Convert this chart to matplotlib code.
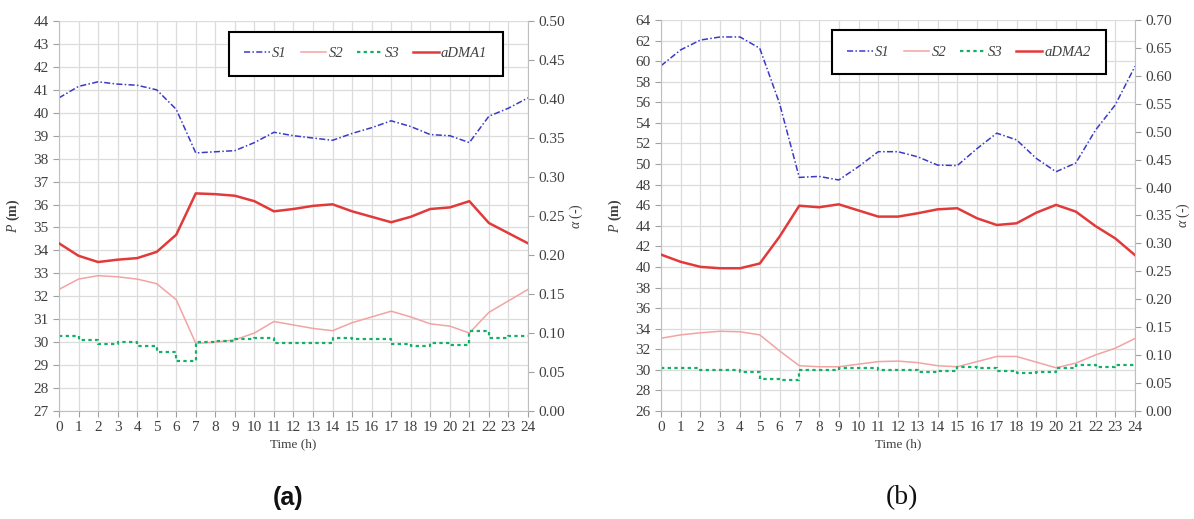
"""Two-panel chart: hourly pressure at S1-S3 and alpha of the DMA."""

import matplotlib

matplotlib.use("Agg")
import matplotlib.pyplot as plt
from matplotlib.lines import Line2D
from matplotlib.ticker import FormatStrFormatter

hours = list(range(25))

# panel (a)
s1_a = [40.65, 41.15, 41.35, 41.25, 41.2, 41.0, 40.15, 38.25, 38.3, 38.35, 38.7, 39.15,
        39.0, 38.9, 38.8, 39.1, 39.35, 39.65, 39.4, 39.05, 39.0, 38.7, 39.85, 40.2, 40.65]
s2_a = [32.3, 32.75, 32.9, 32.85, 32.75, 32.55, 31.85, 29.95, 30.0, 30.1, 30.4, 30.9,
        30.75, 30.6, 30.5, 30.85, 31.1, 31.35, 31.1, 30.8, 30.7, 30.4, 31.3, 31.8, 32.3]
s3_a = [30.28, 30.1, 29.93, 30.0, 29.83, 29.58, 29.17, 30.02, 30.05, 30.12, 30.2, 29.95,
        29.95, 29.95, 30.17, 30.12, 30.12, 29.9, 29.83, 29.97, 29.88, 30.48, 30.2, 30.25, 30.25]
adma1 = [0.215, 0.199, 0.191, 0.194, 0.196, 0.204, 0.226, 0.279, 0.278, 0.276, 0.269, 0.256,
         0.259, 0.263, 0.265, 0.256, 0.249, 0.242, 0.249, 0.259, 0.261, 0.269, 0.241, 0.228, 0.215]

# panel (b)
s1_b = [59.55, 61.1, 62.05, 62.35, 62.35, 61.25, 55.9, 48.7, 48.8, 48.45, 49.75, 51.2,
        51.2, 50.7, 49.9, 49.85, 51.5, 53.0, 52.35, 50.55, 49.25, 50.1, 53.3, 55.75, 59.5]
s2_b = [33.07, 33.4, 33.6, 33.75, 33.7, 33.4, 31.85, 30.4, 30.3, 30.3, 30.55, 30.8,
        30.85, 30.7, 30.4, 30.3, 30.8, 31.3, 31.3, 30.75, 30.2, 30.65, 31.45, 32.1, 33.05]
s3_b = [30.2, 30.15, 30.0, 30.0, 29.8, 29.1, 29.0, 29.95, 29.95, 30.15, 30.2, 29.95,
        30.0, 29.76, 29.9, 30.3, 30.2, 29.9, 29.67, 29.76, 30.15, 30.47, 30.3, 30.47, 30.47]
adma2 = [0.28, 0.267, 0.258, 0.2555, 0.2555, 0.264, 0.312, 0.3675, 0.3647, 0.37, 0.359, 0.348,
         0.348, 0.354, 0.361, 0.363, 0.345, 0.333, 0.336, 0.355, 0.369, 0.357, 0.331, 0.309, 0.279]

C_S1 = "#3a3ac8"
C_S2 = "#f2a3a3"
C_S3 = "#14b06a"
C_ADMA = "#e23a3a"
GRID = "#dcdcdc"
TXT = "#404040"
SERIF = "Liberation Serif"

plt.rcParams["font.family"] = SERIF
plt.rcParams["mathtext.fontset"] = "custom"
plt.rcParams["mathtext.it"] = "Liberation Serif:italic"
plt.rcParams["mathtext.rm"] = "Liberation Serif"

DASHDOT = (0, (4, 1.5, 1, 1.5))
DOTTED = (0, (1.5, 1.5))


def panel(rect, s1, s2, s3, adma, adma_name, p_lim, p_step, a_lim, leg_xy):
    ax = fig.add_axes(rect)
    ax.plot(hours, s1, color=C_S1, lw=1.1, ls=DASHDOT)
    ax.plot(hours, s2, color=C_S2, lw=1.1)
    ax.plot(hours, s3, color=C_S3, lw=1.6, ls=DOTTED, drawstyle="steps-post")
    ax.set_xlim(0, 24)
    ax.set_ylim(*p_lim)
    ax.set_xticks(hours)
    ax.set_yticks(range(p_lim[0], p_lim[1] + 1, p_step))
    ax.grid(True, color=GRID, lw=0.9)
    ax.set_axisbelow(True)
    for side in ("top", "right"):
        ax.spines[side].set_visible(False)
    for side in ("left", "bottom"):
        ax.spines[side].set_color("#bfbfbf")
    ax.tick_params(colors="#a0a0a0", labelcolor=TXT, labelsize=11, length=4)
    ax.set_xlabel("Time (h)", fontsize=9.5, color=TXT, labelpad=3)
    ax.set_ylabel(r"$\mathit{P}$ (m)", fontsize=10, color=TXT, fontweight="bold", labelpad=8)

    ax2 = ax.twinx()
    ax2.plot(hours, adma, color=C_ADMA, lw=1.8)
    ax2.set_ylim(*a_lim)
    n = int(round(a_lim[1] / 0.05))
    ax2.set_yticks([i * 0.05 for i in range(n + 1)])
    ax2.yaxis.set_major_formatter(FormatStrFormatter("%.2f"))
    for side in ("top", "left", "bottom"):
        ax2.spines[side].set_visible(False)
    ax2.spines["right"].set_color("#bfbfbf")
    ax2.tick_params(colors="#a0a0a0", labelcolor=TXT, labelsize=11, length=4)
    ax2.set_ylabel(r"$\mathit{\alpha}$ (-)", fontsize=10, color=TXT, labelpad=2)

    handles = [
        Line2D([], [], color=C_S1, lw=1.1, ls=DASHDOT),
        Line2D([], [], color=C_S2, lw=1.1),
        Line2D([], [], color=C_S3, lw=1.6, ls=DOTTED),
        Line2D([], [], color=C_ADMA, lw=1.8),
    ]
    leg = ax2.legend(handles, ["S1", "S2", "S3", adma_name], loc="upper left",
                     bbox_to_anchor=leg_xy, ncol=4, fancybox=False,
                     edgecolor="black", framealpha=1, borderpad=1.05, handlelength=1.75,
                     handletextpad=0.15, columnspacing=0.95, borderaxespad=0,
                     prop={"family": SERIF, "style": "italic", "size": 10.5})
    leg.get_frame().set_linewidth(1.5)
    for t in leg.get_texts():
        t.set_color(TXT)
    return ax, ax2


fig = plt.figure(figsize=(11.94, 5.19), dpi=100)

panel([0.0494, 0.2081, 0.3928, 0.7514], s1_a, s2_a, s3_a, adma1, "aDMA1",
      (27, 44), 1, (0, 0.5), (0.3625, 0.972))
panel([0.5536, 0.2081, 0.3970, 0.7534], s1_b, s2_b, s3_b, adma2, "aDMA2",
      (26, 64), 2, (0, 0.7), (0.361, 0.974))

fig.text(288 / 1194, 1 - 498 / 519, "(a)", fontsize=18, ha="center", va="center",
         family="Liberation Sans", fontweight="bold", color="#111111")
fig.text(902 / 1194, 1 - 498 / 519, "(b)", fontsize=20, ha="center", va="center",
         family=SERIF, color="#111111")

fig.savefig("out.png", dpi=100)
